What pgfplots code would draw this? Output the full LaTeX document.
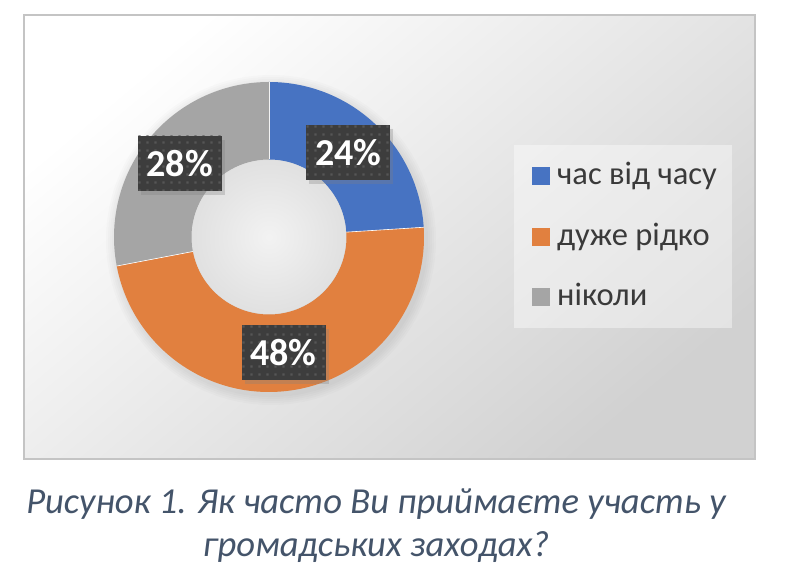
\documentclass[border=0pt]{standalone}
\usepackage{fontspec}
\setmainfont{Carlito}
\usepackage{pgfplots}
\pgfplotsset{compat=1.18}
\usepackage{pgfplotstable}
\usetikzlibrary{calc,shadows,patterns}

\definecolor{sliceblue}{HTML}{4773C2}
\definecolor{sliceorange}{HTML}{E1803F}
\definecolor{slicegray}{HTML}{A5A5A5}
\definecolor{labelbox}{HTML}{3D3D3D}
\definecolor{labeldot}{HTML}{565656}
\definecolor{captioncol}{HTML}{44546A}
\definecolor{legendtext}{HTML}{3A3A3A}
\definecolor{panelborder}{HTML}{C4C4C4}

% small square dots on the data-label boxes
\pgfdeclarepatternformonly{labeldots}{\pgfqpoint{0pt}{0pt}}{\pgfqpoint{8pt}{8pt}}{\pgfqpoint{8pt}{8pt}}{%
  \pgfpathrectangle{\pgfqpoint{2.75pt}{2.75pt}}{\pgfqpoint{2.5pt}{2.5pt}}\pgfusepath{fill}}

% shares of answers, in percent
\pgfplotstableread{
value
24
48
28
}\participation

\pgfplotstablegetelem{0}{value}\of\participation \pgfmathtruncatemacro\vA{\pgfplotsretval}
\pgfplotstablegetelem{1}{value}\of\participation \pgfmathtruncatemacro\vB{\pgfplotsretval}
\pgfplotstablegetelem{2}{value}\of\participation \pgfmathtruncatemacro\vC{\pgfplotsretval}
% slice boundaries, clockwise from the top
\pgfmathsetmacro\aA{90}
\pgfmathsetmacro\aB{\aA-3.6*\vA}
\pgfmathsetmacro\aC{\aB-3.6*\vB}
\pgfmathsetmacro\aD{\aC-3.6*\vC}

\newcommand\ringslice[3]{%
  \fill[#3] ($(axis cs:269,349)+(#1:155pt)$) arc[start angle=#1,end angle=#2,radius=155pt]
    -- ($(axis cs:269,349)+(#2:77.5pt)$) arc[start angle=#2,end angle=#1,radius=77.5pt] -- cycle;
  \draw[white,line width=0.6pt] ($(axis cs:269,349)+(#1:77.5pt)$) -- ($(axis cs:269,349)+(#1:155pt)$);}

\tikzset{datalabel/.style={fill=labelbox,minimum width=84pt,minimum height=55pt,inner sep=0pt,
    text=white,font=\bfseries\fontsize{38}{38}\selectfont,
    drop shadow={opacity=0.3,shadow xshift=3pt,shadow yshift=-4pt},
    postaction={pattern=labeldots,pattern color=labeldot}}}

\begin{document}
\begin{tikzpicture}
\useasboundingbox (0,0) rectangle (788pt,586pt);
\fill[white] (0,0) rectangle (788pt,586pt);
\begin{axis}[x=1pt,y=1pt,xmin=0,xmax=788,ymin=0,ymax=586,
  hide axis,scale only axis,clip=false,at={(0pt,0pt)},anchor=south west]
  % chart panel
  \shade[top color=white,bottom color=white!82!black,shading angle=40]
    (axis cs:24,127) rectangle (axis cs:755,571);
  \draw[panelborder,line width=2.5pt] (axis cs:24,127) rectangle (axis cs:755,571);
  % soft shadow round the ring
  \pgfplotsinvokeforeach{157,159,161,163,165}{\fill[black,opacity=0.015] (axis cs:271,346) circle[radius=#1pt];}
  % ring
  \ringslice{\aA}{\aB}{sliceblue}
  \ringslice{\aB}{\aC}{sliceorange}
  \ringslice{\aC}{\aD}{slicegray}
  \shade[inner color=white!95!black,outer color=white!88!black] (axis cs:269,349) circle[radius=77pt];
  % legend
  \fill[white,opacity=0.4] (axis cs:514,258) rectangle (axis cs:732,441);
  \fill[sliceblue]   (axis cs:532,401) rectangle (axis cs:550,419);
  \fill[sliceorange] (axis cs:532,340) rectangle (axis cs:550,358);
  \fill[slicegray]   (axis cs:532,280) rectangle (axis cs:550,298);
  \begin{scope}[every node/.style={anchor=base west,inner sep=0pt,text=legendtext,font=\fontsize{32.5}{32.5}\selectfont}]
    \node at (axis cs:557,401) {час від часу};
    \node at (axis cs:557,340) {дуже рідко};
    \node at (axis cs:557,280) {ніколи};
  \end{scope}
  % data labels at the middle of each slice
  \node[datalabel] at ($(axis cs:269,349)+({(\aA+\aB)/2}:116pt)$) {\vA\%};
  \node[datalabel] at ($(axis cs:269,349)+({(\aB+\aC)/2}:116pt)$) {\vB\%};
  \node[datalabel] at ($(axis cs:269,349)+({(\aC+\aD)/2}:116pt)$) {\vC\%};
  % caption
  \begin{scope}[every node/.style={anchor=base,inner sep=0pt,text=captioncol,font=\itshape\fontsize{36.6}{36.6}\selectfont}]
    \node at (axis cs:376,72) {Рисунок 1. Як часто Ви приймаєте участь у};
    \node at (axis cs:376,29) {громадських заходах?};
  \end{scope}
\end{axis}
\end{tikzpicture}
\end{document}
